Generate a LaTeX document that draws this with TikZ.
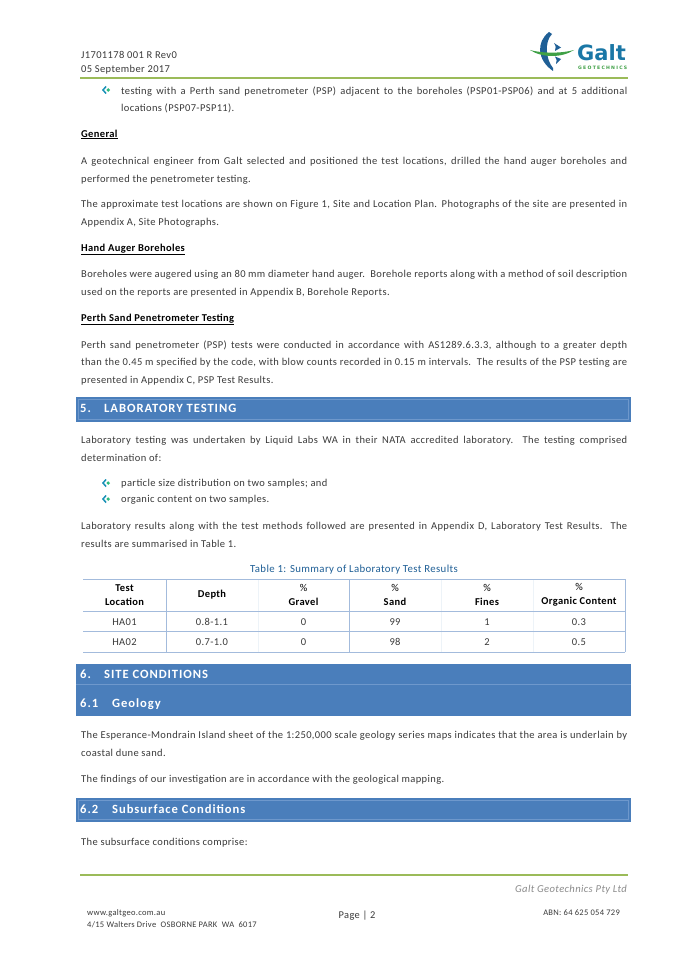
\documentclass[tikz,border=0pt]{standalone}
\usepackage{fontspec}
\setmainfont[LetterSpace=3.5]{Carlito}
\newfontfamily\barfont[LetterSpace=7.5]{Carlito}
\newfontfamily\logofont{DejaVu Sans}
\definecolor{barblue}{HTML}{4A7EBB}
\definecolor{barline}{HTML}{6E98CC}
\definecolor{rulegreen}{HTML}{9BBB59}
\definecolor{tabline}{HTML}{A3BBDC}
\definecolor{tabfaint}{HTML}{EDF3F8}
\definecolor{bodytext}{HTML}{3A3A3A}
\definecolor{logoblue}{HTML}{1F5F96}
\definecolor{logogreen}{HTML}{3FA046}
\newcommand{\bodyfont}{\fontsize{10.5}{17.4}\selectfont}
\tikzset{
  x=1pt,y=-1pt,
  para/.style={anchor=north west,inner sep=0pt,text width=546pt,align=justify,text=bodytext,font=\bodyfont},
  bulletpara/.style={anchor=north west,inner sep=0pt,text width=506pt,align=justify,text=bodytext,font=\bodyfont},
  label/.style={anchor=base west,inner sep=0pt,text=bodytext,font=\bodyfont},
  subhead/.style={label,font=\bodyfont\bfseries,text=black},
  bartitle/.style={anchor=base west,inner sep=0pt,text=white,font=\barfont\fontsize{12.6}{14}\selectfont\bfseries},
  bar/.style={fill=barblue,draw=none},
  barrule/.style={draw=barline,line width=0.6pt},
  greenrule/.style={draw=rulegreen,line width=2.6pt},
  cell/.style={anchor=base,inner sep=0pt,text=bodytext,font=\fontsize{10.5}{12}\selectfont},
  headcell/.style={anchor=center,inner sep=0pt,align=center,text=black,font=\fontsize{10.5}{14}\selectfont\bfseries},
  tabrule/.style={draw=tabline,line width=1pt},
  tabfine/.style={draw=tabfaint,line width=0.7pt},
  small/.style={anchor=base west,inner sep=0pt,text=bodytext,font=\fontsize{8.5}{12}\selectfont},
}
\newcommand{\dobullet}[2]{%
  \fill[logoblue!70!cyan] (#1+2,#2) -- (#1+5.5,#2-4) -- (#1+6.6,#2-3) -- (#1+4,#2) -- (#1+6.6,#2+3) -- (#1+5.5,#2+4) -- cycle;
  \fill[logogreen!70!cyan] (#1+6.4,#2) -- (#1+8.2,#2-1.8) -- (#1+10,#2) -- (#1+8.2,#2+1.8) -- cycle;
}
\newcommand{\dobar}[3]{%
  \fill[bar] (76,#1) rectangle (631,#2);
  \draw[barrule] (78.5,#1+2.5) rectangle (628.5,#2-2.5);
  #3
}
\begin{document}
\begin{tikzpicture}
\useasboundingbox[fill=white] (0,0) rectangle (675,955);
% header
\node[label] (h1) at (81,59) {J1701178 001 R Rev0};
\node[label] (h2) at (81,73) {05 September 2017};
\draw[greenrule] (80,78) -- (628,78);
% logo
\fill[logoblue] (549,32) .. controls (536,42) and (537,60) .. (553,71) -- (553,68) .. controls (546,60) and (544,42) .. (552,34) -- cycle;
\fill[logogreen] (530,50) .. controls (542,58) and (562,58) .. (574,50) .. controls (562,53.5) and (542,53.5) .. (530,50) -- cycle;
\fill[logoblue] (554,43) -- (561,47.5) -- (555,51) .. controls (556,48) and (556,46) .. (554,43) -- cycle;
\fill[logoblue] (555,56.5) -- (561,59) -- (556,64) .. controls (557,61) and (557,59) .. (555,56.5) -- cycle;
\node[anchor=base west,inner sep=0pt,text=logoblue!85!cyan] (logo) at (577,61) {\logofont\fontsize{21}{21}\selectfont\bfseries Galt};
\node[anchor=base west,inner sep=0pt,text=logogreen] (logosub) at (578,69.5) {\logofont\fontsize{4.6}{5}\selectfont\bfseries\makebox[49pt][s]{G\hfil E\hfil O\hfil T\hfil E\hfil C\hfil H\hfil N\hfil I\hfil C\hfil S}};
% first bullet
\dobullet{100}{90}
\node[bulletpara] (p0) at (121,86.5) {testing with a Perth sand penetrometer (PSP) adjacent to the boreholes (PSP01-PSP06) and at 5 additional\linebreak locations (PSP07-PSP11).};
\node[subhead] (s1) at (81,137) {\underline{General}};
\node[para] (p1) at (81,157.5) {A geotechnical engineer from Galt selected and positioned the test locations, drilled the hand auger boreholes and\linebreak performed the penetrometer testing.};
\node[para] (p2) at (81,200.5) {The approximate test locations are shown on Figure 1, Site and Location Plan. Photographs of the site are presented in\linebreak Appendix A, Site Photographs.};
\node[subhead] (s2) at (81,251) {\underline{Hand Auger Boreholes}};
\node[para] (p3) at (81,270.5) {Boreholes were augered using an 80 mm diameter hand auger.\ \ Borehole reports along with a method of soil description\linebreak used on the reports are presented in Appendix B, Borehole Reports.};
\node[subhead] (s3) at (81,321) {\underline{Perth Sand Penetrometer Testing}};
\node[para] (p4) at (81,340.5) {Perth sand penetrometer (PSP) tests were conducted in accordance with AS1289.6.3.3, although to a greater depth\linebreak than the 0.45 m specified by the code, with blow counts recorded in 0.15 m intervals.\ \ The results of the PSP testing are\linebreak presented in Appendix C, PSP Test Results.};
% section 5
\dobar{397}{422}{}
\node[bartitle] (b5n) at (80,412) {5.};
\node[bartitle] (b5) at (104,412) {LABORATORY TESTING};
\node[para] (p5) at (81,436.5) {Laboratory testing was undertaken by Liquid Labs WA in their NATA accredited laboratory.\ \ The testing comprised\linebreak determination of:};
\dobullet{100}{483}
\node[label] (l1) at (121,486) {particle size distribution on two samples; and};
\dobullet{100}{499}
\node[label] (l2) at (121,502) {organic content on two samples.};
\node[para] (p6) at (81,522.5) {Laboratory results along with the test methods followed are presented in Appendix D, Laboratory Test Results.\ \ The\linebreak results are summarised in Table 1.};
% table
\node[anchor=base,inner sep=0pt,text=logoblue,font=\fontsize{10.8}{12}\selectfont] (tt) at (354,572.5) {Table 1: Summary of Laboratory Test Results};
\foreach \xx in {258,441,533} \draw[tabfine] (\xx,579) -- (\xx,652);
\draw[tabrule] (83,579) -- (625,579);
\draw[tabrule] (83,611.5) -- (625,611.5);
\draw[tabrule] (83,631) -- (625,631);
\draw[tabrule] (83,652) -- (625,652);
\foreach \xx in {166,349,625} \draw[tabrule] (\xx,579) -- (\xx,652);
\node[headcell] (c11) at (124.5,595) {Test\\Location};
\node[headcell] (c12) at (212,595) {Depth};
\node[headcell] (c13) at (303.5,595) {\mdseries\%\\Gravel};
\node[headcell] (c14) at (395,595) {\mdseries\%\\Sand};
\node[headcell] (c15) at (487,595) {\mdseries\%\\Fines};
\node[headcell] (c16) at (579,595) {\mdseries\%\\Organic Content};
\node[cell] (c21) at (124.5,625) {HA01};
\node[cell] (c22) at (212,625) {0.8-1.1};
\node[cell] (c23) at (303.5,625) {0};
\node[cell] (c24) at (395,625) {99};
\node[cell] (c25) at (487,625) {1};
\node[cell] (c26) at (579,625) {0.3};
\node[cell] (c31) at (124.5,645) {HA02};
\node[cell] (c32) at (212,645) {0.7-1.0};
\node[cell] (c33) at (303.5,645) {0};
\node[cell] (c34) at (395,645) {98};
\node[cell] (c35) at (487,645) {2};
\node[cell] (c36) at (579,645) {0.5};
% section 6
\fill[bar] (76,664) rectangle (631,716);
\draw[barline,line width=0.5pt] (76,684) -- (631,684);
\node[bartitle] (b6n) at (80,678) {6.};
\node[bartitle] (b6) at (104,678) {SITE CONDITIONS};
\node[bartitle] (b61n) at (80,707) {6.1};
\node[bartitle] (b61) at (112,707) {Geology};
\node[para] (p7) at (81,731.5) {The Esperance-Mondrain Island sheet of the 1:250,000 scale geology series maps indicates that the area is underlain by\linebreak coastal dune sand.};
\node[label] (p8) at (81,782) {The findings of our investigation are in accordance with the geological mapping.};
\dobar{798}{822}{}
\node[bartitle] (b62n) at (80,813) {6.2};
\node[bartitle] (b62) at (112,813) {Subsurface Conditions};
\node[label] (p9) at (81,845) {The subsurface conditions comprise:};
% footer
\draw[greenrule] (80,875) -- (628,875);
\node[anchor=base east,inner sep=0pt,text=black!45,font=\fontsize{10.6}{12}\selectfont\itshape] (f1) at (627,892) {Galt Geotechnics Pty Ltd};
\node[small] (f2) at (87,915) {www.galtgeo.com.au};
\node[small] (f3) at (87,927) {4/15 Walters Drive\ \ OSBORNE PARK\ \ WA\ \ 6017};
\node[anchor=base,inner sep=0pt,text=bodytext,font=\fontsize{10.4}{12}\selectfont] (f4) at (357,918) {Page | 2};
\node[small,anchor=base east] (f5) at (620,915) {ABN: 64 625 054 729};
\end{tikzpicture}
\end{document}
